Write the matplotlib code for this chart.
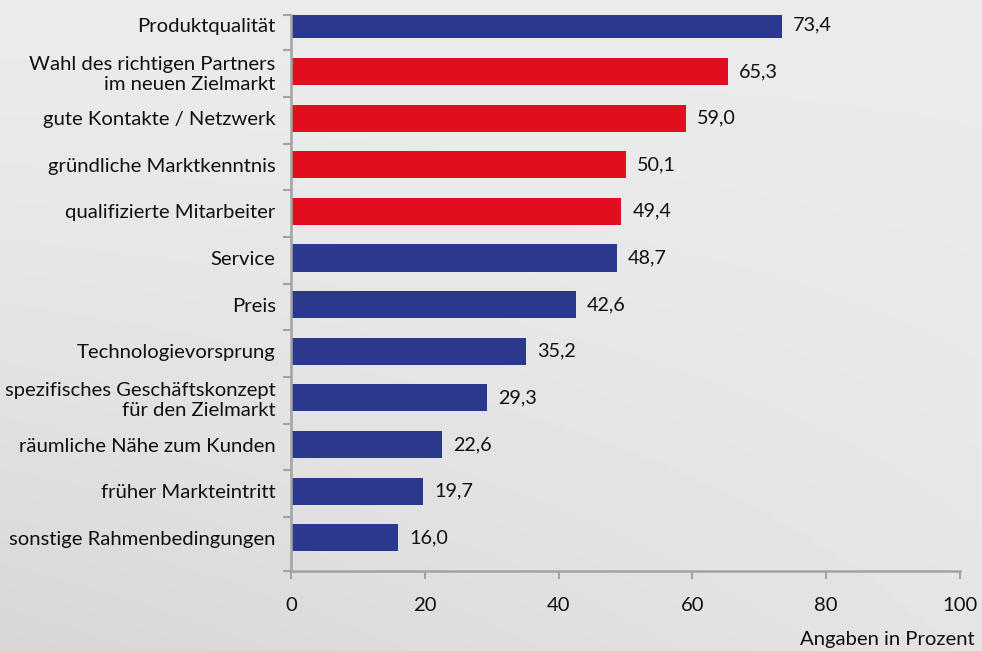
import matplotlib.pyplot as plt
import numpy as np

# --- data ---
categories = [
    "Produktqualität",
    "Wahl des richtigen Partners\nim neuen Zielmarkt",
    "gute Kontakte / Netzwerk",
    "gründliche Marktkenntnis",
    "qualifizierte Mitarbeiter",
    "Service",
    "Preis",
    "Technologievorsprung",
    "spezifisches Geschäftskonzept\nfür den Zielmarkt",
    "räumliche Nähe zum Kunden",
    "früher Markteintritt",
    "sonstige Rahmenbedingungen",
]
values = [73.4, 65.3, 59.0, 50.1, 49.4, 48.7, 42.6, 35.2, 29.3, 22.6, 19.7, 16.0]
highlight = [False, True, True, True, True, False, False, False, False, False, False, False]
x_ticks = [0, 20, 40, 60, 80, 100]

BLUE = "#2a398b"
RED = "#e20d1e"
AXIS = "#a3a3a3"
FS = 14.6

plt.rcParams['font.family'] = ['Lato', 'DejaVu Sans']

fig = plt.figure(figsize=(9.82, 6.51), dpi=100)

# background gradient (light at top right, darker bottom left)
bg = fig.add_axes([0, 0, 1, 1], zorder=-10)
gx, gy = np.meshgrid(np.linspace(0, 1, 200), np.linspace(0, 1, 200))
shade = 0.92 - 0.08 * gy ** 1.5 * (1 - 0.7 * gx)
bg.imshow(shade, cmap='gray', vmin=0, vmax=1, extent=[0, 1, 0, 1],
          origin='upper', aspect='auto')
bg.axis('off')

ax = fig.add_axes([291 / 982, 1 - 571 / 651, (960 - 291) / 982, (571 - 15) / 651])
ax.patch.set_alpha(0)

y = np.arange(len(categories))
colors = [RED if h else BLUE for h in highlight]
ax.barh(y, values, height=0.58, color=colors)

for yi, v in zip(y, values):
    ax.annotate(f"{v:.1f}".replace(".", ","), (v, yi), xytext=(8, 0),
                textcoords='offset points', va='center', ha='left',
                fontsize=FS - 0.4, color='#111111')

ax.set_xlim(0, 100)
ax.set_ylim(11.71, -0.21)

ax.set_yticks(y)
ax.set_yticklabels(categories, fontsize=FS, color='#111111', linespacing=1.2)
ax.tick_params(axis='y', which='major', length=0, pad=11)
ax.set_yticks(list(y[:-1] + 0.55) + [-0.21, 11.71], minor=True)
ax.tick_params(axis='y', which='minor', length=6, width=1.5, color=AXIS, direction='out')
for lab in ax.get_yticklabels():
    lab.set_horizontalalignment('right')
    lab.set_multialignment('right')

ax.set_xticks(x_ticks)
ax.set_xticklabels([str(t) for t in x_ticks], fontsize=FS, color='#111111')
ax.tick_params(axis='x', length=6, width=1.5, color=AXIS, pad=13)

for s in ['top', 'right']:
    ax.spines[s].set_visible(False)
for s in ['left', 'bottom']:
    ax.spines[s].set_color(AXIS)
    ax.spines[s].set_linewidth(1.8)

fig.text(975 / 982, 1 - 639 / 651, "Angaben in Prozent", ha='right', va='center',
         fontsize=FS, color='#111111')

fig.savefig("out.png", dpi=100)
